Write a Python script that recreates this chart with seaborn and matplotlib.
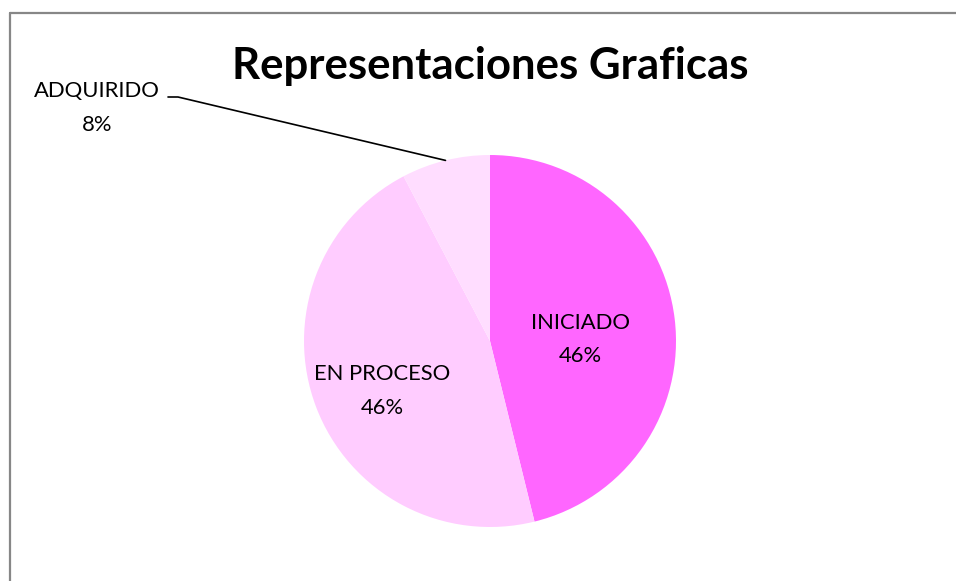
import numpy as np
import matplotlib
matplotlib.use('Agg')
import matplotlib.pyplot as plt
import seaborn as sns

# datos del grafico
categorias = ['INICIADO', 'EN PROCESO', 'ADQUIRIDO']
valores = [6, 6, 1]
colores = ['#FF66FF', '#FFCCFF', '#FFDDFF']
titulo = 'Representaciones Graficas'

sns.set_theme(style='white')
plt.rcParams['font.family'] = ['Lato', 'DejaVu Sans']

fig = plt.figure(figsize=(9.56, 5.81), dpi=100)
W, H = 956, 581

# borde gris del grafico (arriba e izquierda)
fig.add_artist(plt.Line2D([9.5 / W, 1], [1 - 12.5 / H, 1 - 12.5 / H], color='#878787', lw=1.6))
fig.add_artist(plt.Line2D([9.5 / W, 9.5 / W], [0, 1 - 12.5 / H], color='#878787', lw=1.6))

fig.text(490 / W, 1 - 66 / H, titulo, ha='center', va='center',
         fontsize=31.5, fontweight='bold', color='black')

# ejes del pastel: centro (490, 341), radio 186 px
r = 186
ax = fig.add_axes([(490 - r) / W, (H - 341 - r) / H, 2 * r / W, 2 * r / H])
wedges, _ = ax.pie(valores, colors=colores, startangle=90, counterclock=False,
                   wedgeprops=dict(linewidth=0))
ax.set_xlim(-1, 1)
ax.set_ylim(-1, 1)
ax.set_axis_off()

total = sum(valores)
pcts = [round(v / total * 100) for v in valores]
dist = [0.49, 0.62]
fs = 15.8
ls = 1.85
for i, w in enumerate(wedges):
    ang = np.deg2rad((w.theta1 + w.theta2) / 2)
    if i < 2:
        ax.text(dist[i] * np.cos(ang), dist[i] * np.sin(ang) - 0.05,
                f'{categorias[i]}\n{pcts[i]}%', ha='center', va='center',
                fontsize=fs, linespacing=ls, color='black')
    else:
        # etiqueta externa con linea guia
        tx, ty = (97 - 490) / r, (341 - 108) / r
        ex, ey = np.cos(ang), np.sin(ang)
        lx, ly = (178 - 490) / r, (341 - 97) / r
        ax.plot([ex, lx, lx - 10 / r], [ey, ly, ly], color='black', lw=1.2,
                clip_on=False)
        ax.text(tx, ty, f'{categorias[i]}\n{pcts[i]}%', ha='center', va='center',
                fontsize=fs, linespacing=ls, color='black')

fig.savefig('out.png', dpi=100)
